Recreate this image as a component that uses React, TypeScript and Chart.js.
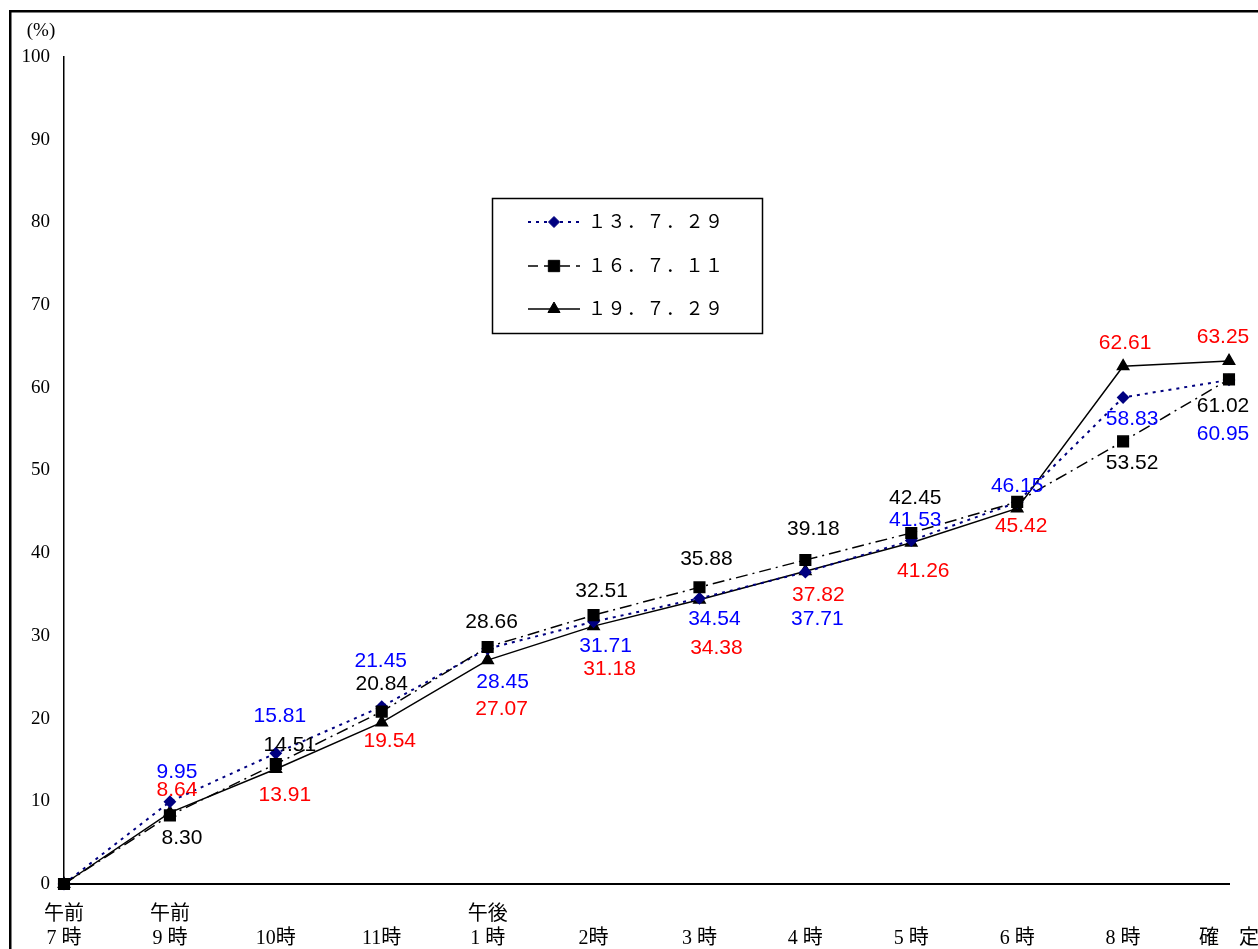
import React, { useEffect, useRef } from "react";
import { Chart, registerables } from "chart.js";
import { drawPoint } from "chart.js/helpers";

Chart.register(...registerables);

const categories: string[][] = [
  ["午前", "7 時"],
  ["午前", "9 時"],
  ["", "10時"],
  ["", "11時"],
  ["午後", "1 時"],
  ["", "2時"],
  ["", "3 時"],
  ["", "4 時"],
  ["", "5 時"],
  ["", "6 時"],
  ["", "8 時"],
  ["", "確　定"],
];

const seriesNames = ["１３．７．２９", "１６．７．１１", "１９．７．２９"];

const values1307 = [0, 9.95, 15.81, 21.45, 28.45, 31.71, 34.54, 37.71, 41.53, 46.15, 58.83, 60.95];
const values1607 = [0, 8.3, 14.51, 20.84, 28.66, 32.51, 35.88, 39.18, 42.45, 46.2, 53.52, 61.02];
const values1907 = [0, 8.64, 13.91, 19.54, 27.07, 31.18, 34.38, 37.82, 41.26, 45.42, 62.61, 63.25];

const yTicks = { min: 0, max: 100, step: 10 };

// label placement (pixel offsets from each point); null = no label
const offsets1307: ([number, number] | null)[] = [
  null, [7, -30], [4, -37], [-1, -45], [15, 33], [12, 24], [15, 21], [12, 47], [4, -20], [0, -16], [9, 22], [-6, 54],
];
const offsets1607: ([number, number] | null)[] = [
  null, [12, 23], [14, -19], [0, -27], [4, -25], [8, -24], [7, -28], [8, -31], [4, -35], null, [9, 22], [-6, 27],
];
const offsets1907: ([number, number] | null)[] = [
  null, [7, -22], [9, 26], [8, 19], [14, 49], [16, 43], [17, 49], [13, 24], [12, 28], [4, 18], [2, -23], [-6, -24],
];

const labelColors = ["#0000FF", "#000000", "#FF0000"];
const labelOffsets = [offsets1307, offsets1607, offsets1907];
const legendDashes = [[3, 5], [10, 6], []];

const SERIF = '"Liberation Serif", "Noto Sans CJK JP", serif';
const SANS = '"Liberation Sans", Arial, sans-serif';

const framePlugin = {
  id: "frame",
  beforeDraw(chart: any) {
    const ctx = chart.ctx;
    ctx.save();
    ctx.fillStyle = "#fff";
    ctx.fillRect(0, 0, chart.width, chart.height);
    ctx.fillStyle = "#000";
    ctx.fillRect(9, 10, chart.width, 2.5);
    ctx.fillRect(9, 10, 2.5, chart.height);
    ctx.font = "19px " + SERIF;
    ctx.textAlign = "center";
    ctx.textBaseline = "middle";
    ctx.fillText("(%)", 41, 31);
    ctx.restore();
  },
};

const valueLabelPlugin = {
  id: "valueLabels",
  afterDatasetsDraw(chart: any) {
    const ctx = chart.ctx;
    ctx.save();
    ctx.font = "21px " + SANS;
    ctx.textAlign = "center";
    ctx.textBaseline = "middle";
    chart.data.datasets.forEach((ds: any, di: number) => {
      const meta = chart.getDatasetMeta(di);
      ctx.fillStyle = labelColors[di];
      meta.data.forEach((pt: any, i: number) => {
        const off = labelOffsets[di][i];
        if (!off) return;
        ctx.fillText(Number(ds.data[i]).toFixed(2), pt.x + off[0], pt.y + off[1]);
      });
    });
    ctx.restore();
  },
};

const legendPlugin = {
  id: "boxLegend",
  afterDraw(chart: any) {
    const ctx = chart.ctx;
    ctx.save();
    ctx.strokeStyle = "#000";
    ctx.lineWidth = 1.5;
    ctx.strokeRect(492.5, 198.5, 270, 135);
    const rows = [222, 266, 309];
    chart.data.datasets.forEach((ds: any, i: number) => {
      const y = rows[i];
      ctx.save();
      ctx.strokeStyle = ds.borderColor;
      ctx.lineWidth = ds.borderWidth;
      ctx.setLineDash(legendDashes[i]);
      ctx.beginPath();
      ctx.moveTo(528, y);
      ctx.lineTo(580, y);
      ctx.stroke();
      ctx.restore();
      ctx.save();
      ctx.fillStyle = ds.pointBackgroundColor;
      ctx.strokeStyle = ds.pointBorderColor;
      ctx.lineWidth = 1;
      drawPoint(ctx, { pointStyle: ds.pointStyle, radius: ds.pointRadius + 0.5, rotation: 0, borderWidth: 1 }, 554, y);
      ctx.restore();
      ctx.fillStyle = "#000";
      ctx.font = "18px " + SERIF;
      (ctx as any).letterSpacing = "1.5px";
      ctx.textAlign = "left";
      ctx.textBaseline = "middle";
      ctx.fillText(ds.label, 588, y + 1);
    });
    ctx.restore();
  },
};

export default function App() {
  const ref = useRef<HTMLCanvasElement | null>(null);
  useEffect(() => {
    if (!ref.current) return;
    const chart = new Chart(ref.current, {
      type: "line",
      data: {
        labels: categories,
        datasets: [
          {
            label: seriesNames[0],
            data: values1307,
            borderColor: "#000080",
            borderWidth: 2,
            borderDash: [3, 5],
            pointStyle: "rectRot",
            pointRadius: 5,
            pointBackgroundColor: "#000080",
            pointBorderColor: "#000080",
            order: 1,
            clip: false,
          } as any,
          {
            label: seriesNames[1],
            data: values1607,
            borderColor: "#000000",
            borderWidth: 1.5,
            borderDash: [12, 5, 2, 5],
            pointStyle: "rect",
            pointRadius: 7.5,
            pointBackgroundColor: "#000000",
            pointBorderColor: "#000000",
            order: 0,
            clip: false,
          } as any,
          {
            label: seriesNames[2],
            data: values1907,
            borderColor: "#000000",
            borderWidth: 1.5,
            pointStyle: "triangle",
            pointRadius: 6.5,
            pointBackgroundColor: "#000000",
            pointBorderColor: "#000000",
            order: 2,
            clip: false,
          } as any,
        ],
      },
      options: {
        responsive: false,
        animation: false,
        layout: { padding: { left: 0, top: 57, right: 29, bottom: 0 } },
        plugins: {
          legend: { display: false },
          tooltip: { enabled: false },
        },
        elements: { line: { tension: 0 } },
        scales: {
          x: {
            offset: false,
            grid: { display: false, drawTicks: false },
            border: { display: true, color: "#000", width: 2 },
            afterFit: (s: any) => {
              s.height = 65;
              s.paddingLeft = 0;
              s.paddingRight = 0;
            },
            ticks: {
              autoSkip: false,
              maxRotation: 0,
              minRotation: 0,
              color: "#000",
              padding: 19,
              font: { family: SERIF, size: 20, lineHeight: 1.2 },
            },
          },
          y: {
            min: yTicks.min,
            max: yTicks.max,
            grid: { display: false, drawTicks: false },
            border: { display: true, color: "#000", width: 1.5 },
            afterFit: (s: any) => {
              s.width = 64;
              s.paddingTop = 0;
              s.paddingBottom = 0;
            },
            ticks: {
              stepSize: yTicks.step,
              color: "#000",
              padding: 14,
              font: { family: SERIF, size: 19 },
            },
          },
        },
      },
      plugins: [framePlugin, valueLabelPlugin, legendPlugin],
    });
    return () => chart.destroy();
  }, []);
  return (
    <div style={{ position: "fixed", left: 0, top: 0, width: 1258, height: 949, overflow: "hidden", background: "#fff" }}>
      <canvas ref={ref} width={1258} height={949} style={{ width: 1258, height: 949, display: "block" }} />
    </div>
  );
}
